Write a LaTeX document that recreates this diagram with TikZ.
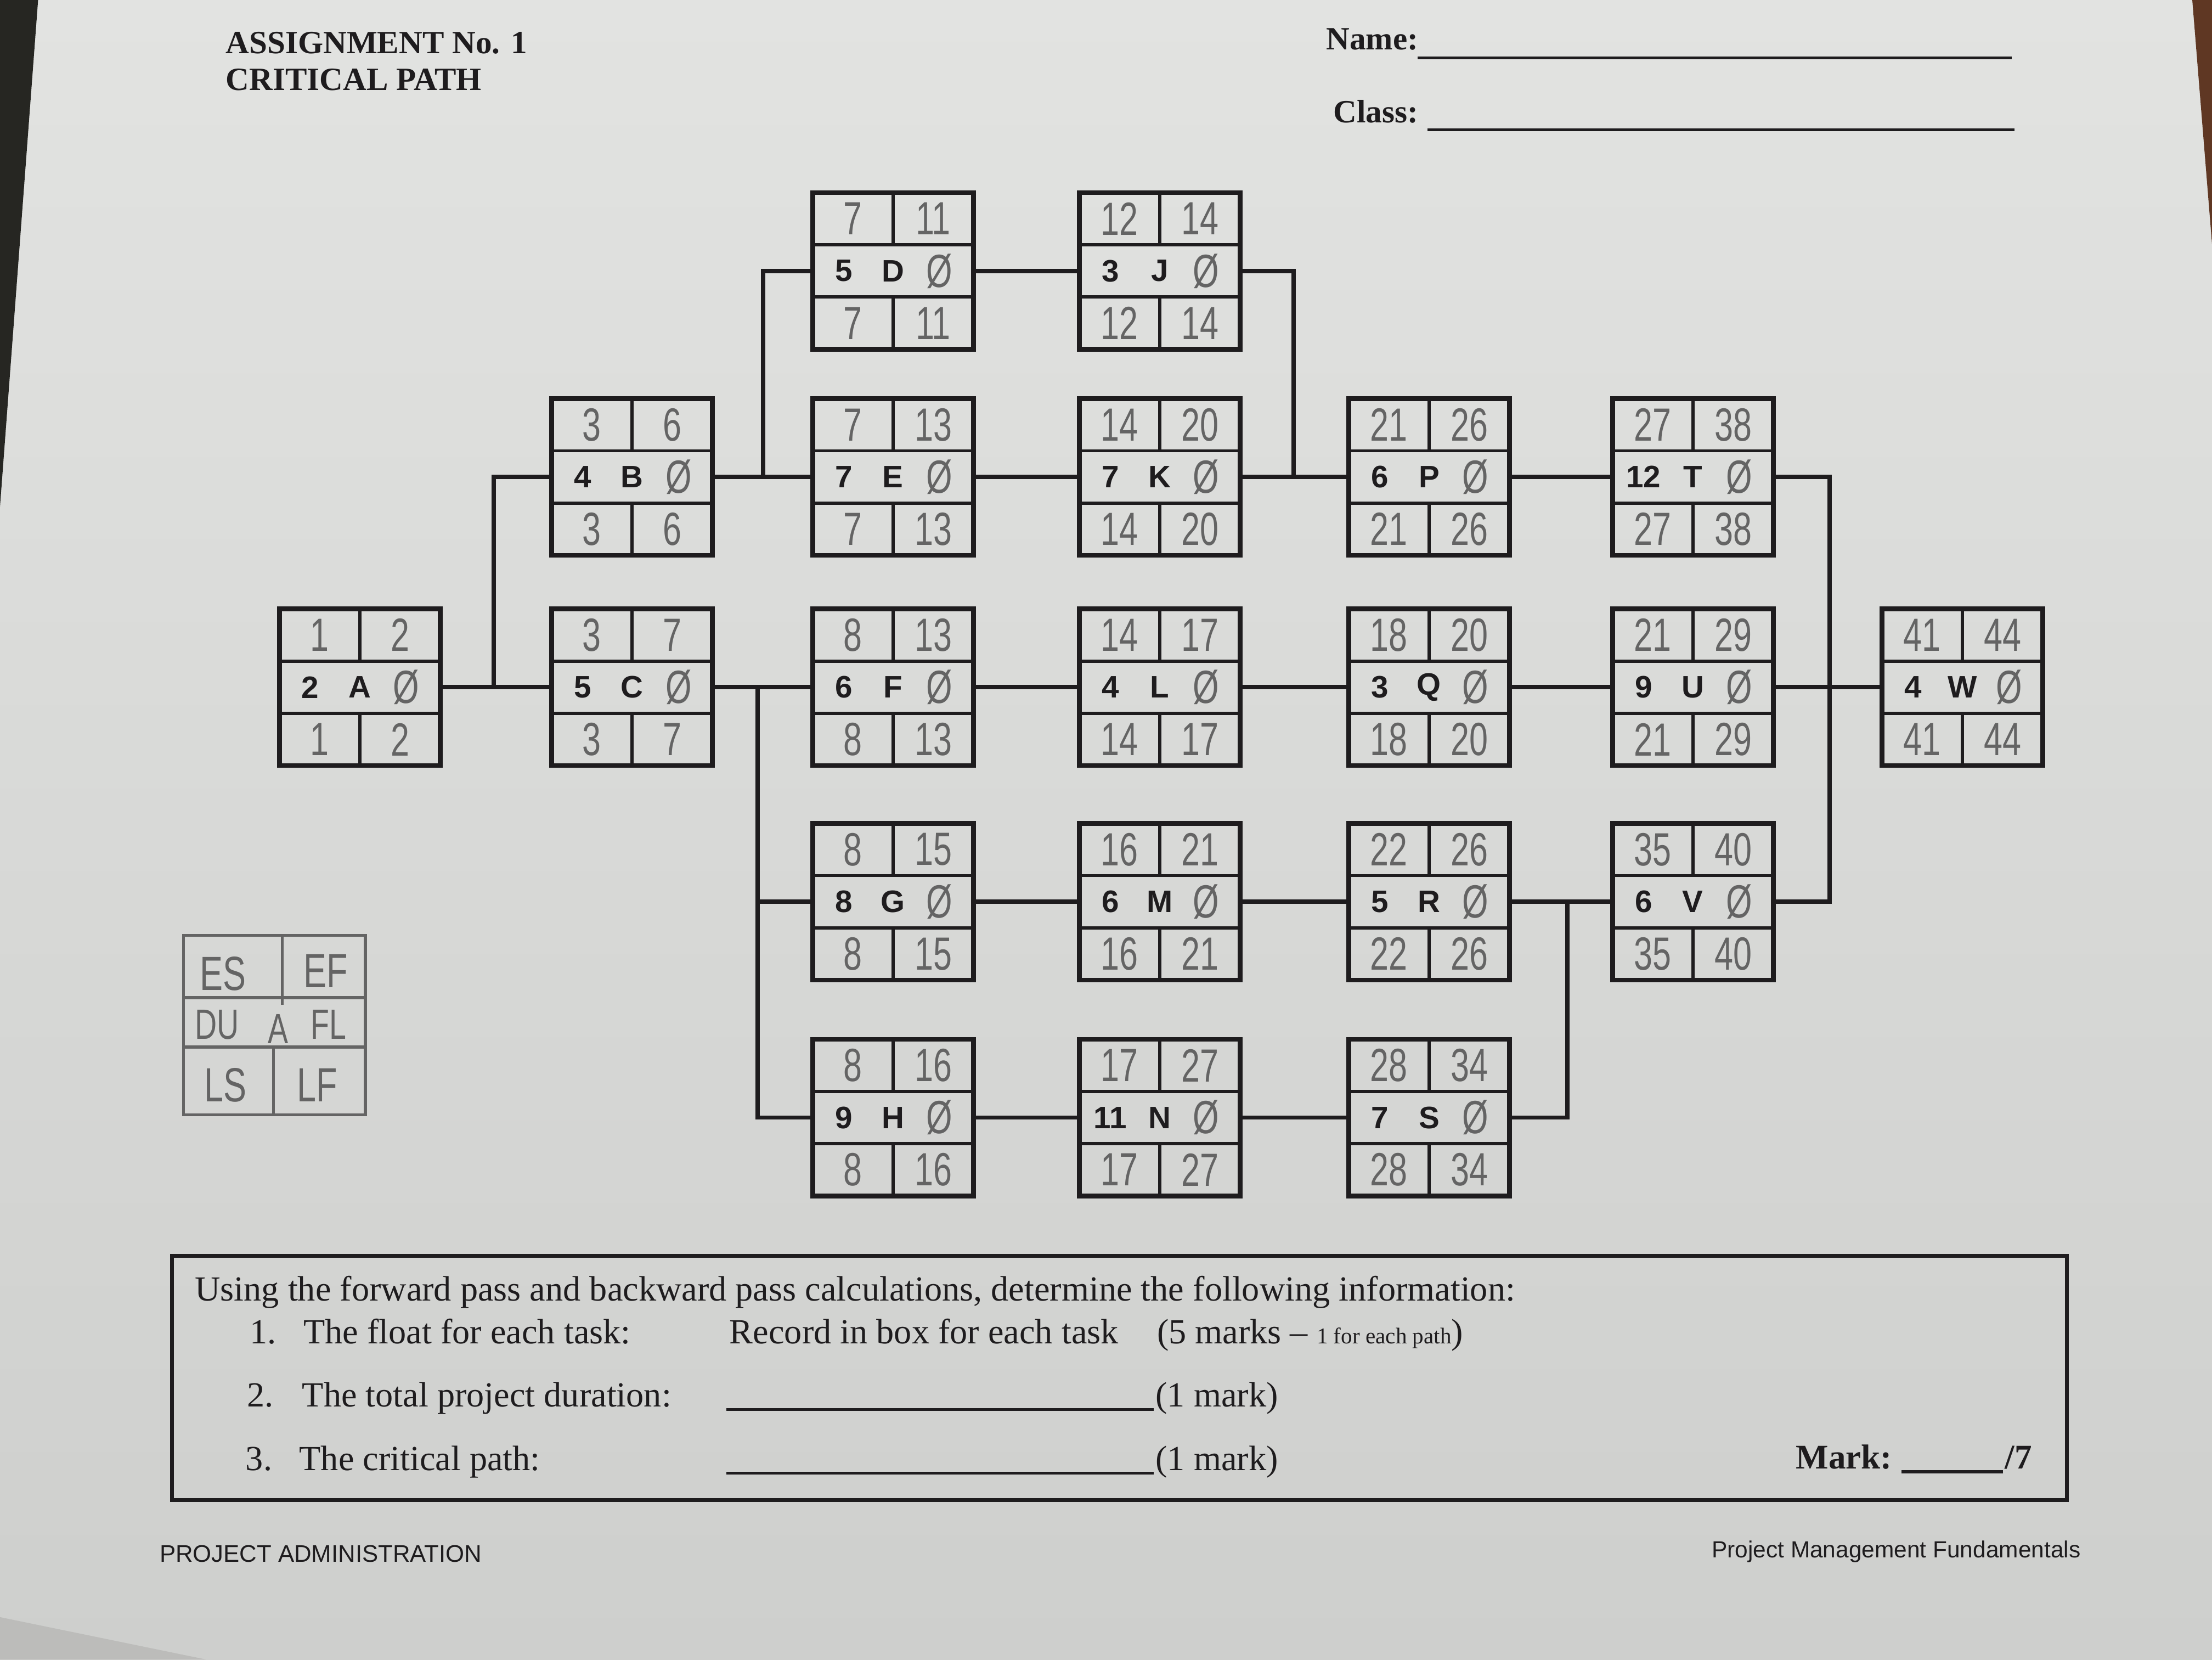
\documentclass[tikz,border=0pt]{standalone}
\usepackage{fontspec}
\setmainfont{Liberation Serif}
\setsansfont{Liberation Sans}
\newfontfamily\handfont[FakeStretch=0.72]{Liberation Sans}
\definecolor{papertop}{RGB}{226,227,225}
\definecolor{paperbot}{RGB}{206,207,205}
\definecolor{ink}{RGB}{30,28,30}
\definecolor{pencil}{RGB}{100,100,100}
\definecolor{tabledark}{RGB}{38,38,34}
\definecolor{wood}{RGB}{95,55,35}
\definecolor{shadow}{RGB}{188,188,186}
\tikzset{
  taskbox/.style={draw=ink, line width=3.4pt, minimum width=114pt, minimum height=111pt, inner sep=0pt, outer sep=0pt},
  cellline/.style={draw=ink, line width=2.2pt},
  conn/.style={draw=ink, line width=3pt},
  durtxt/.style={font=\fontsize{22}{22}\sffamily\bfseries, text=ink, inner sep=0pt},
  handtxt/.style={font=\fontsize{33}{33}\handfont, text=pencil, inner sep=0pt},
  legtxt/.style={font=\fontsize{34}{34}\handfont, text=pencil, inner sep=0pt},
  legline/.style={draw=pencil, line width=2pt},
  head/.style={font=\fontsize{23}{23}\selectfont\bfseries, text=ink, anchor=base west, inner sep=0pt},
  body/.style={font=\fontsize{25}{25}\selectfont, text=ink, anchor=base west, inner sep=0pt},
  foot/.style={font=\fontsize{17}{17}\sffamily, text=ink, inner sep=0pt},
  rule/.style={draw=ink, line width=2pt}
}
\newcommand{\TaskNode}[9]{%
  \node[taskbox] (#1) at (#2,#3) {};
  \begin{scope}[shift={(#2,#3)}]
    \draw[cellline] (-57,-18.5) -- (57,-18.5);
    \draw[cellline] (-57,18.5) -- (57,18.5);
    \draw[cellline] (0,-55.5) -- (0,-18.5);
    \draw[cellline] (0,18.5) -- (0,55.5);
    \node[durtxt] (#1dur) at (-35,0) {#4};
    \node[durtxt] (#1id) at (0,0) {#5};
    \node[handtxt] (#1fl) at (33,0) {Ø};
    \node[handtxt] (#1es) at (-28.5,-37) {#6};
    \node[handtxt] (#1ef) at (28.5,-37) {#7};
    \node[handtxt] (#1ls) at (-28.5,37) {#8};
    \node[handtxt] (#1lf) at (28.5,37) {#9};
  \end{scope}}
\begin{document}
\begin{tikzpicture}[x=1pt,y=-1pt]
\useasboundingbox (0,0) rectangle (1568,1176);
% paper
\shade[top color=papertop, bottom color=paperbot] (0,0) rectangle (1568,1176);
\fill[tabledark] (0,0) -- (27,0) -- (0,359) -- cycle;
\fill[wood] (1554,0) -- (1568,0) -- (1568,173) -- cycle;
\fill[shadow] (0,1146) -- (146,1176) -- (0,1176) -- cycle;

% header
\node[head] (t1) at (160,38) {ASSIGNMENT No. 1};
\node[head] (t2) at (160,64) {CRITICAL PATH};
\node[head] (nm) at (940,35) {Name:};
\node[head] (cl) at (945,87) {Class:};
\draw[rule] (1005,41) -- (1426,41);
\draw[rule] (1012,92) -- (1428,92);

% task boxes
\TaskNode{A}{255}{487}{2}{A}{1}{2}{1}{2}
\TaskNode{B}{448}{338}{4}{B}{3}{6}{3}{6}
\TaskNode{C}{448}{487}{5}{C}{3}{7}{3}{7}
\TaskNode{D}{633}{192}{5}{D}{7}{11}{7}{11}
\TaskNode{E}{633}{338}{7}{E}{7}{13}{7}{13}
\TaskNode{F}{633}{487}{6}{F}{8}{13}{8}{13}
\TaskNode{G}{633}{639}{8}{G}{8}{15}{8}{15}
\TaskNode{H}{633}{792}{9}{H}{8}{16}{8}{16}
\TaskNode{J}{822}{192}{3}{J}{12}{14}{12}{14}
\TaskNode{K}{822}{338}{7}{K}{14}{20}{14}{20}
\TaskNode{L}{822}{487}{4}{L}{14}{17}{14}{17}
\TaskNode{M}{822}{639}{6}{M}{16}{21}{16}{21}
\TaskNode{N}{822}{792}{11}{N}{17}{27}{17}{27}
\TaskNode{P}{1013}{338}{6}{P}{21}{26}{21}{26}
\TaskNode{Q}{1013}{487}{3}{Q}{18}{20}{18}{20}
\TaskNode{R}{1013}{639}{5}{R}{22}{26}{22}{26}
\TaskNode{S}{1013}{792}{7}{S}{28}{34}{28}{34}
\TaskNode{T}{1200}{338}{12}{T}{27}{38}{27}{38}
\TaskNode{U}{1200}{487}{9}{U}{21}{29}{21}{29}
\TaskNode{V}{1200}{639}{6}{V}{35}{40}{35}{40}
\TaskNode{W}{1391}{487}{4}{W}{41}{44}{41}{44}

% junction points
\coordinate (jAB) at (350,487);
\coordinate (jBD) at (541,338);
\coordinate (jC) at (537,487);
\coordinate (jJK) at (917,338);
\coordinate (jRS) at (1111,639);
\coordinate (jW) at (1297,487);

% connectors
\draw[conn] (A.east) -- (C.west);
\draw[conn] (jAB) |- (B.west);
\draw[conn] (B.east) -- (E.west);
\draw[conn] (jBD) |- (D.west);
\draw[conn] (D.east) -- (J.west);
\draw[conn] (E.east) -- (K.west);
\draw[conn] (K.east) -- (P.west);
\draw[conn] (J.east) -| (jJK);
\draw[conn] (P.east) -- (T.west);
\draw[conn] (C.east) -- (F.west);
\draw[conn] (jC) |- (G.west);
\draw[conn] (jC) |- (H.west);
\draw[conn] (F.east) -- (L.west);
\draw[conn] (L.east) -- (Q.west);
\draw[conn] (Q.east) -- (U.west);
\draw[conn] (U.east) -- (W.west);
\draw[conn] (G.east) -- (M.west);
\draw[conn] (M.east) -- (R.west);
\draw[conn] (R.east) -- (V.west);
\draw[conn] (S.east) -| (jRS);
\draw[conn] (H.east) -- (N.west);
\draw[conn] (N.east) -- (S.west);
\draw[conn] (T.east) -| (jW);
\draw[conn] (V.east) -| (jW);

% legend (pencil)
\draw[legline] (130,663) rectangle (259,790);
\draw[legline] (130,707) -- (259,707);
\draw[legline] (130,742) -- (259,742);
\draw[legline] (200,663) -- (200,712);
\draw[legline] (194,742) -- (194,790);
\node[legtxt] (lges) at (158,690) {ES};
\node[legtxt] (lgef) at (231,688) {EF};
\node[legtxt, font=\fontsize{30}{30}\handfont] (lgdu) at (154,726) {DU};
\node[legtxt, font=\fontsize{30}{30}\handfont] (lga) at (197,729) {A};
\node[legtxt, font=\fontsize{30}{30}\handfont] (lgfl) at (233,726) {FL};
\node[legtxt] (lgls) at (160,769) {LS};
\node[legtxt] (lglf) at (225,769) {LF};

% question box
\node[draw=ink, line width=2.6pt, minimum width=1343pt, minimum height=173pt, inner sep=0pt] (qbox) at (793.5,976.5) {};
\node[body] (q0) at (138,922) {Using the forward pass and backward pass calculations, determine the following information:};
\node[body] (q1n) at (177,952) {1.};
\node[body] (q1) at (215,952) {The float for each task:};
\node[body] (q1r) at (517,952) {Record in box for each task};
\node[body] (q1m) at (820,952) {(5 marks -- {\fontsize{16}{16}\selectfont 1 for each path})};
\node[body] (q2n) at (175,997) {2.};
\node[body] (q2) at (214,997) {The total project duration:};
\draw[rule] (515,999) -- (818,999);
\node[body] (q2m) at (819,997) {(1 mark)};
\node[body] (q3n) at (174,1042) {3.};
\node[body] (q3) at (212,1042) {The critical path:};
\draw[rule] (515,1044) -- (818,1044);
\node[body] (q3m) at (819,1042) {(1 mark)};
\node[body, font=\fontsize{24.5}{24.5}\selectfont\bfseries] (mk) at (1273,1041) {Mark:};
\draw[rule] (1348,1043) -- (1420,1043);
\node[body, font=\fontsize{24.5}{24.5}\selectfont\bfseries] (mk7) at (1421,1041) {/7};

% footer
\node[foot, anchor=base west] (f1) at (113,1107) {PROJECT ADMINISTRATION};
\node[foot, anchor=base east, font=\fontsize{16.5}{16.5}\sffamily] (f2) at (1475,1104) {Project Management Fundamentals};
\end{tikzpicture}
\end{document}
